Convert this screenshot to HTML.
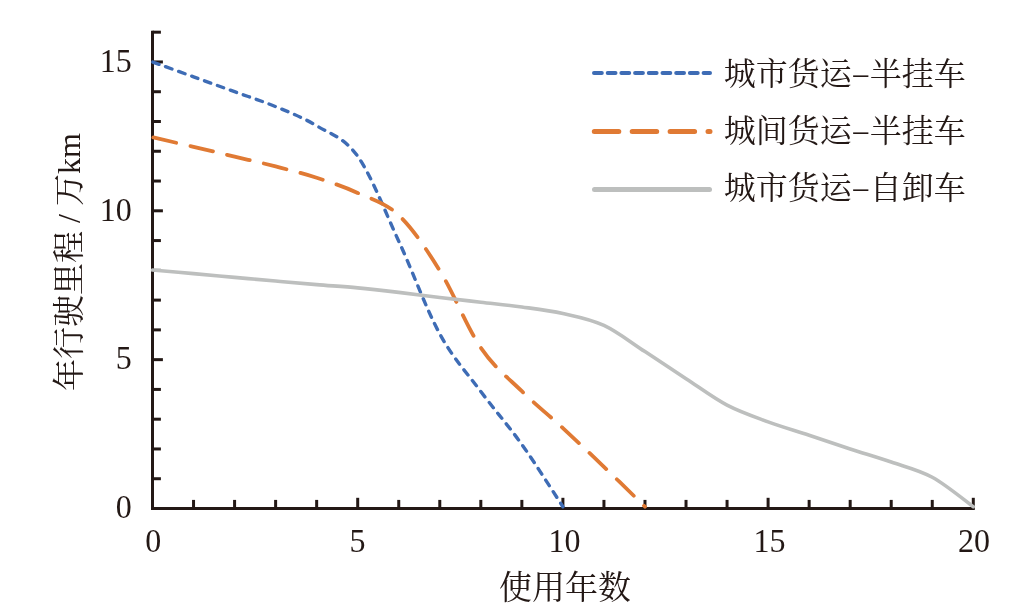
<!DOCTYPE html>
<html><head><meta charset="utf-8"><style>
html,body{margin:0;padding:0;background:#fff;width:1028px;height:613px;overflow:hidden}
svg{display:block;will-change:transform}
.n{font-family:"Liberation Serif",serif;font-size:33px;fill:#231815}
.c{font-family:"Liberation Serif","Noto Serif CJK SC",serif;font-size:32px;fill:#231815}
.d{font-family:"Noto Serif CJK SC",serif}
</style></head><body>
<svg width="1028" height="613" viewBox="0 0 1028 613">
<g stroke="#231815" stroke-width="3" fill="none"><line x1="152.5" y1="30.7" x2="152.5" y2="510" /><line x1="151" y1="508.5" x2="974.8" y2="508.5" /><line x1="152.5" y1="478.73" x2="160.90" y2="478.73" /><line x1="152.5" y1="448.96" x2="160.90" y2="448.96" /><line x1="152.5" y1="419.19" x2="160.90" y2="419.19" /><line x1="152.5" y1="389.42" x2="160.90" y2="389.42" /><line x1="152.5" y1="359.65" x2="162.90" y2="359.65" /><line x1="152.5" y1="329.88" x2="160.90" y2="329.88" /><line x1="152.5" y1="300.11" x2="160.90" y2="300.11" /><line x1="152.5" y1="270.34" x2="160.90" y2="270.34" /><line x1="152.5" y1="240.57" x2="160.90" y2="240.57" /><line x1="152.5" y1="210.80" x2="162.90" y2="210.80" /><line x1="152.5" y1="181.03" x2="160.90" y2="181.03" /><line x1="152.5" y1="151.26" x2="160.90" y2="151.26" /><line x1="152.5" y1="121.49" x2="160.90" y2="121.49" /><line x1="152.5" y1="91.72" x2="160.90" y2="91.72" /><line x1="152.5" y1="61.95" x2="162.90" y2="61.95" /><line x1="152.5" y1="32.18" x2="160.90" y2="32.18" /><line x1="193.54" y1="508.5" x2="193.54" y2="499.90" /><line x1="234.58" y1="508.5" x2="234.58" y2="499.90" /><line x1="275.62" y1="508.5" x2="275.62" y2="499.90" /><line x1="316.66" y1="508.5" x2="316.66" y2="499.90" /><line x1="357.70" y1="508.5" x2="357.70" y2="497.80" /><line x1="398.74" y1="508.5" x2="398.74" y2="499.90" /><line x1="439.78" y1="508.5" x2="439.78" y2="499.90" /><line x1="480.82" y1="508.5" x2="480.82" y2="499.90" /><line x1="521.86" y1="508.5" x2="521.86" y2="499.90" /><line x1="562.90" y1="508.5" x2="562.90" y2="497.80" /><line x1="603.94" y1="508.5" x2="603.94" y2="499.90" /><line x1="644.98" y1="508.5" x2="644.98" y2="499.90" /><line x1="686.02" y1="508.5" x2="686.02" y2="499.90" /><line x1="727.06" y1="508.5" x2="727.06" y2="499.90" /><line x1="768.10" y1="508.5" x2="768.10" y2="497.80" /><line x1="809.14" y1="508.5" x2="809.14" y2="499.90" /><line x1="850.18" y1="508.5" x2="850.18" y2="499.90" /><line x1="891.22" y1="508.5" x2="891.22" y2="499.90" /><line x1="932.26" y1="508.5" x2="932.26" y2="499.90" /><line x1="973.30" y1="508.5" x2="973.30" y2="497.80" /></g>
<path d="M152.50,61.95 C159.34,64.43 179.86,71.87 193.54,76.83 C207.22,81.80 220.90,86.76 234.58,91.72 C248.26,96.68 261.94,100.92 275.62,106.61 C289.30,112.29 302.98,117.52 316.66,125.81 C330.34,134.09 344.02,137.09 357.70,156.32 C371.38,175.55 385.06,211.57 398.74,241.17 C412.42,270.76 426.10,308.84 439.78,333.90 C453.46,358.96 467.14,373.07 480.82,391.50 C494.50,409.94 508.18,425.29 521.86,444.49 C535.54,463.70 556.06,496.34 562.90,506.71" fill="none" stroke="#3e6cb5" stroke-width="3.4" stroke-dasharray="6.6 7.13" stroke-dashoffset="-0.4" stroke-linecap="round"/>
<path d="M152.50,137.27 C159.34,138.86 179.86,143.57 193.54,146.79 C207.22,150.02 220.90,153.34 234.58,156.62 C248.26,159.89 261.94,162.92 275.62,166.44 C289.30,169.97 302.98,173.34 316.66,177.76 C330.34,182.17 344.02,186.69 357.70,192.94 C371.38,199.19 385.06,202.32 398.74,215.27 C412.42,228.22 426.10,248.56 439.78,270.64 C453.46,292.72 467.14,327.65 480.82,347.74 C494.50,367.84 508.18,377.81 521.86,391.21 C535.54,404.60 549.22,415.52 562.90,428.12 C576.58,440.72 590.26,453.72 603.94,466.82 C617.62,479.92 638.14,500.07 644.98,506.71" fill="none" stroke="#e07a34" stroke-width="3.8" stroke-dasharray="23.3 14.5" stroke-dashoffset="-1" stroke-linecap="round"/>
<path d="M152.50,270.04 C159.34,270.64 179.86,272.40 193.54,273.61 C207.22,274.83 220.90,276.10 234.58,277.34 C248.26,278.58 261.94,279.84 275.62,281.06 C289.30,282.27 302.98,283.49 316.66,284.63 C330.34,285.77 344.02,286.61 357.70,287.90 C371.38,289.19 385.06,290.78 398.74,292.37 C412.42,293.96 426.10,295.79 439.78,297.43 C453.46,299.07 467.14,300.61 480.82,302.19 C494.50,303.78 508.18,305.07 521.86,306.96 C535.54,308.84 549.22,310.43 562.90,313.51 C576.58,316.58 590.26,319.06 603.94,325.41 C617.62,331.77 631.30,342.73 644.98,351.61 C658.66,360.49 672.34,369.77 686.02,378.70 C699.70,387.63 713.38,398.00 727.06,405.20 C740.74,412.39 754.42,416.86 768.10,421.87 C781.78,426.88 795.46,430.75 809.14,435.27 C822.82,439.78 836.50,444.49 850.18,448.96 C863.86,453.43 877.54,457.35 891.22,462.06 C904.90,466.77 918.58,469.80 932.26,477.24 C945.94,484.68 966.46,501.80 973.30,506.71" fill="none" stroke="#bdbfbe" stroke-width="3.6" stroke-linecap="round"/>
<line x1="594" y1="72.9" x2="710" y2="72.9" stroke="#3e6cb5" stroke-width="4" stroke-dasharray="7.8 5.9" stroke-linecap="round"/>
<line x1="594.3" y1="131.5" x2="710" y2="131.5" stroke="#e07a34" stroke-width="5" stroke-dasharray="24.5 13.4" stroke-linecap="round"/>
<line x1="594.5" y1="189.4" x2="709.5" y2="189.4" stroke="#bdbfbe" stroke-width="5" stroke-linecap="round"/>
<text class="n" text-anchor="end" transform="translate(131.8,517.80) scale(0.97,1)">0</text>
<text class="n" text-anchor="end" transform="translate(131.8,369.45) scale(0.97,1)">5</text>
<text class="n" text-anchor="end" transform="translate(131.8,220.70) scale(0.97,1)">10</text>
<text class="n" text-anchor="end" transform="translate(131.8,71.85) scale(0.97,1)">15</text>
<text class="n" text-anchor="middle" transform="translate(153.20,552) scale(0.97,1)">0</text>
<text class="n" text-anchor="middle" transform="translate(357.50,552) scale(0.97,1)">5</text>
<text class="n" text-anchor="middle" transform="translate(564.60,552) scale(0.97,1)">10</text>
<text class="n" text-anchor="middle" transform="translate(769.40,552) scale(0.97,1)">15</text>
<text class="n" text-anchor="middle" transform="translate(974.00,552) scale(0.97,1)">20</text>
<text class="c" x="499" y="599" style="font-size:33px">使用年数</text>
<text class="c" transform="translate(80.4,391) rotate(-90)">年行驶里程 / 万km</text>
<text class="c" x="723.7" y="84.5">城市货运<tspan class="d">–</tspan>半挂车</text>
<text class="c" x="723.7" y="141.8">城间货运<tspan class="d">–</tspan>半挂车</text>
<text class="c" x="723.7" y="199">城市货运<tspan class="d">–</tspan>自卸车</text>
</svg>
</body></html>
